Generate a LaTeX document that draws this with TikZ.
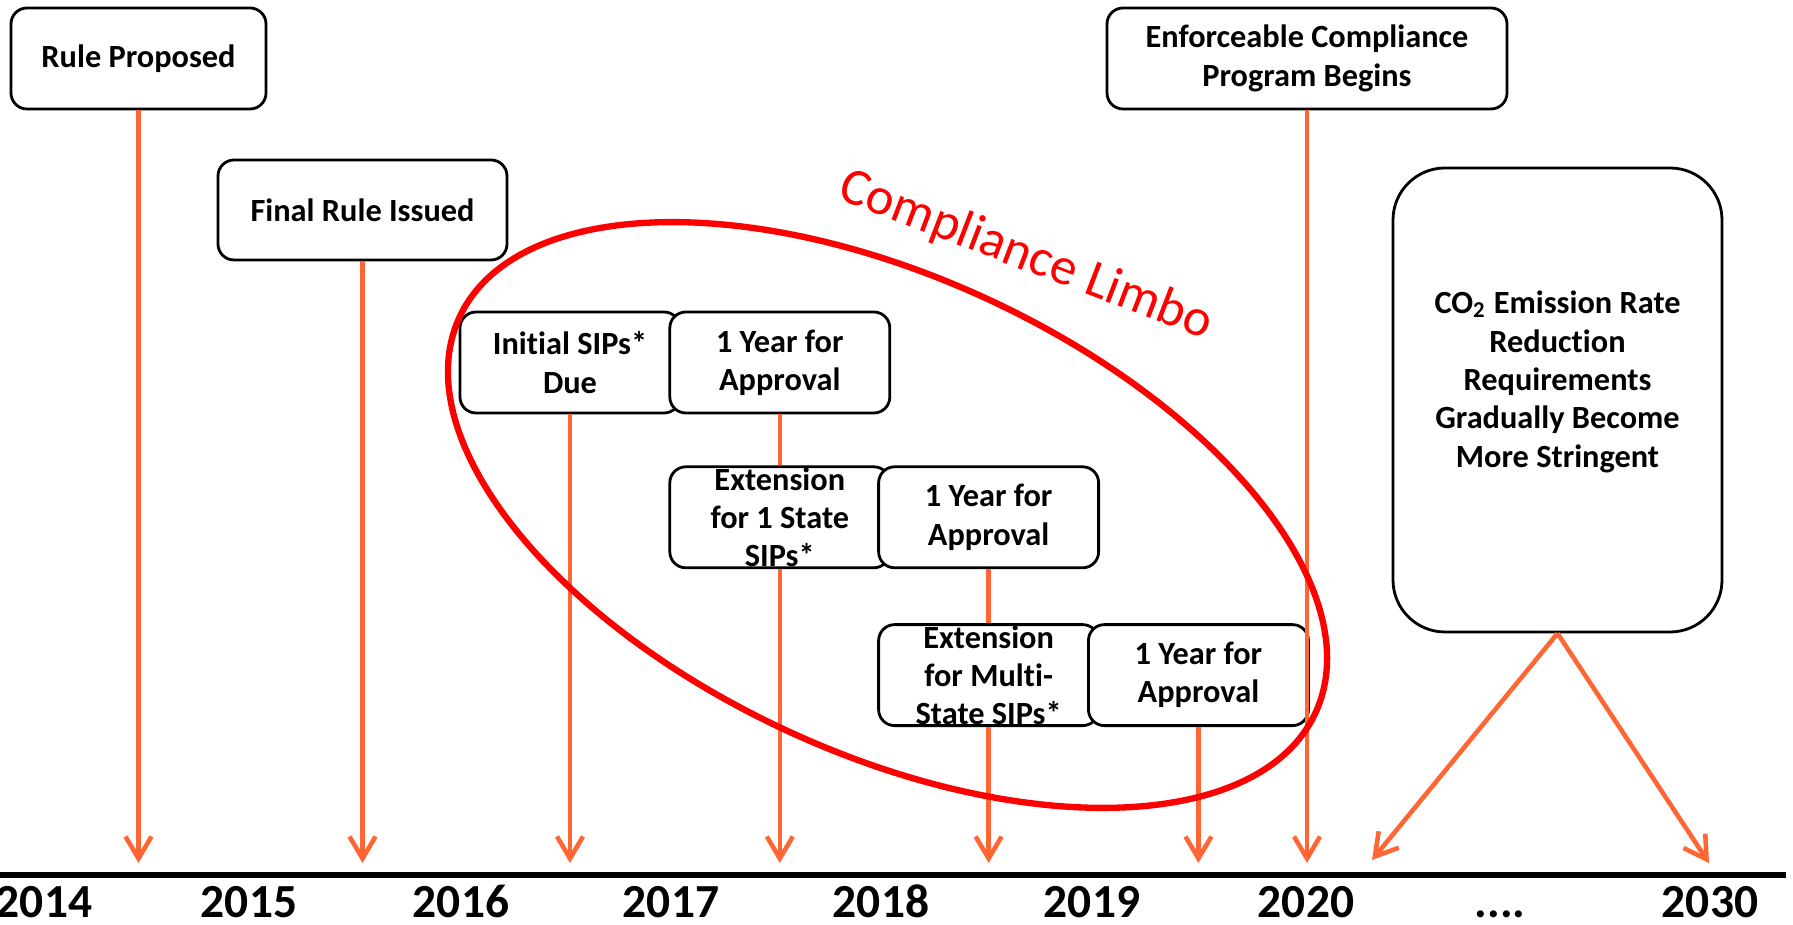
\documentclass[tikz,border=0pt]{standalone}
\usepackage{fontspec}
\setmainfont{Carlito}[Ligatures=NoCommon]
\usepackage{tikz}
\usetikzlibrary{positioning,arrows.meta,shapes.geometric}
\definecolor{arroworange}{RGB}{255,102,51}

\begin{document}
\begin{tikzpicture}[node distance = 0.5cm]
    \tikzstyle{event} = [draw=black, line width=0.8pt, rounded corners=1.6mm, fill=white, align=center, inner sep=0pt, minimum width=2.2cm, minimum height=1.01cm, font=\bfseries\fontsize{9.2}{10.9}\selectfont];
    \tikzstyle{boxtext} = [align=center, inner sep=0pt, font=\bfseries\fontsize{9.2}{10.9}\selectfont];
    \tikzstyle{year} = [anchor=base, font=\bfseries\fontsize{13.5}{16}\selectfont];
    \tikzstyle{arr} = [arroworange, line width=1.3pt, -{Straight Barb[length=2.2mm, width=2.6mm]}];
    \tikzstyle{link} = [arroworange, line width=1.3pt];

    \useasboundingbox (0,0) rectangle (17.93,-9.25);

    \node[event, minimum width=2.55cm] (rp) at (1.385,-0.585) {Rule Proposed};
    \node[event, minimum width=2.89cm, minimum height=1.0cm] (fri) at (3.625,-2.10) {Final Rule Issued};
    \node[event, minimum width=4.0cm] (ecp) at (13.07,-0.585) {Enforceable Compliance\\Program Begins};
    \node[event, minimum width=3.29cm, minimum height=4.64cm, rounded corners=5.2mm,
          label={[boxtext, yshift=0.18cm]center:{CO\textsubscript{2} Emission Rate\\Reduction\\Requirements\\Gradually Become\\More Stringent}}] (co2) at (15.575,-4.0) {};

    \node[event] (init) at (5.70,-3.625) {Initial SIPs*\\Due};
    \node[event, right = -0.13cm of init] (yearA) {1 Year for\\Approval};
    \node[event, below = 0.51cm of yearA, label={[boxtext]center:{Extension\\for 1 State\\SIPs*}}] (ext1) {};
    \node[event, right = -0.14cm of ext1] (yearB) {1 Year for\\Approval};
    \node[event, below = 0.54cm of yearB, label={[boxtext]center:{Extension\\for Multi-\\State SIPs*}}] (extM) {};
    \node[event, right = -0.13cm of extM] (yearC) {1 Year for\\Approval};

    \coordinate (tip) at (0,-8.63);
    \coordinate (axisL) at (0,-8.75);
    \coordinate (axisR) at (17.86,-8.75);
    \coordinate (d2020) at (13.72,-8.60);
    \coordinate (d2030) at (17.09,-8.63);

    \draw[arr] (rp) -- (rp |- tip);
    \draw[arr] (fri) -- (fri |- tip);
    \draw[arr] (init) -- (init |- tip);
    \draw[link] (yearA) -- (ext1);
    \draw[arr] (ext1) -- (ext1 |- tip);
    \draw[link] (yearB) -- (extM);
    \draw[arr] (extM) -- (extM |- tip);
    \draw[arr] (yearC) -- (yearC |- tip);
    \draw[arr] (ecp) -- (ecp |- tip);
    \draw[arr] (co2.south) -- (d2020);
    \draw[arr] (co2.south) -- (d2030);

    \draw[line width=1.5pt] (axisL) -- (axisR);

    \foreach \yr/\xpos in {2014/0.44, 2015/2.49, 2016/4.61, 2017/6.71, 2018/8.81, 2019/10.92, 2020/13.06, 2030/17.10}
        \node[year] (y\yr) at (\xpos,-9.18) {\yr};
    \node[year] (ydots) at (15.0,-9.18) {....};

    \node[draw=red, line width=1.8pt, ellipse, inner sep=0pt, minimum width=9.43cm, minimum height=4.76cm, rotate=-24.8] (limbo) at (8.875,-5.15) {};
    \node[red, rotate=-21, font=\fontsize{15}{18}\selectfont] (limbotext) at (10.26,-2.56) {Compliance Limbo};
\end{tikzpicture}
\end{document}
